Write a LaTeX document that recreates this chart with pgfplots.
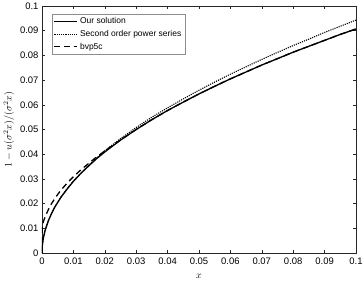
\documentclass[border=0pt]{standalone}
\usepackage[no-math]{fontspec}
\setmainfont{Liberation Sans}
\usepackage{pgfplots}
\pgfplotsset{compat=1.18}
\pgfplotstableread{
x y
0 0
0.0001 0.0029
0.0002 0.0041
0.0005 0.0065
0.001 0.0092
0.002 0.0130
0.003 0.0159
0.004 0.0184
0.005 0.0205
0.006 0.0225
0.008 0.0259
0.01 0.0290
0.0125 0.0324
0.015 0.0354
0.0175 0.0383
0.02 0.0409
0.025 0.0457
0.03 0.0500
0.035 0.0540
0.04 0.0577
0.045 0.0611
0.05 0.0644
0.055 0.0675
0.06 0.0705
0.065 0.0733
0.07 0.0761
0.075 0.0787
0.08 0.0813
0.085 0.0837
0.09 0.0861
0.095 0.0885
0.1 0.0907
}\oursol
\pgfplotstableread{
x y
0 0
0.0001 0.0029
0.0005 0.0065
0.001 0.0092
0.002 0.0130
0.004 0.0184
0.006 0.0226
0.008 0.0260
0.01 0.0292
0.015 0.0357
0.02 0.0414
0.025 0.0463
0.03 0.0508
0.035 0.0550
0.04 0.0588
0.045 0.0624
0.05 0.0659
0.055 0.0692
0.06 0.0724
0.065 0.0754
0.07 0.0784
0.075 0.0812
0.08 0.0840
0.085 0.0866
0.09 0.0893
0.095 0.0918
0.1 0.0943
}\powser
\pgfplotstableread{
x y
0 0
0.00005 0.0105
0.0005 0.0130
0.001 0.0146
0.002 0.0175
0.003 0.0199
0.004 0.0219
0.005 0.0237
0.006 0.0254
0.008 0.0283
0.01 0.0309
0.0125 0.0338
0.015 0.0364
0.0175 0.0390
0.02 0.0413
0.025 0.0458
0.03 0.0500
0.035 0.0540
0.04 0.0577
0.045 0.0611
0.05 0.0644
0.055 0.0675
0.06 0.0705
0.065 0.0733
0.07 0.0761
0.075 0.0787
0.08 0.0813
0.085 0.0837
0.09 0.0861
0.095 0.0885
0.1 0.0907
}\bvp
\begin{document}
\begin{tikzpicture}[font=\fontsize{9.5}{11}\selectfont]
\begin{axis}[
  name=ax,
  scale only axis, width=314bp, height=247bp,
  xmin=0, xmax=0.1, ymin=0, ymax=0.1,
  xtick={0,0.01,0.02,0.03,0.04,0.05,0.06,0.07,0.08,0.09,0.1},
  xticklabels={0,0.01,0.02,0.03,0.04,0.05,0.06,0.07,0.08,0.09,0.1},
  ytick={0,0.01,0.02,0.03,0.04,0.05,0.06,0.07,0.08,0.09,0.1},
  yticklabels={0,0.01,0.02,0.03,0.04,0.05,0.06,0.07,0.08,0.09,0.1},
  tick align=inside, xtick pos=both, ytick pos=both,
  major tick length=3.2bp,
  axis line style={draw=black!85, line width=0.5pt},
  tick style={draw=black!85, line width=0.5pt},
  xticklabel style={yshift=-1bp},
  xlabel={$x$}, ylabel={$1-u(\sigma^2x)/(\sigma^2x)$},
  xlabel style={font=\fontsize{10}{11}\selectfont, yshift=-3.5bp},
  ylabel style={font=\fontsize{10}{11}\selectfont, yshift=-1bp},
  legend style={at={(0.032,0.968)}, anchor=north west, draw=black!45,
    line width=0.5pt, font=\fontsize{8.5}{10}\selectfont,
    inner sep=1.5bp, row sep=1bp},
  legend cell align=left,
  legend image code/.code={\draw[#1] (0bp,0bp) -- (23bp,0bp);},
]
\addplot[black, line width=1.3pt] table {\oursol};
\addlegendentry{Our solution}
\addplot[black, line width=1.1pt, dash pattern=on 1.1bp off 1.1bp] table {\powser};
\addlegendentry{Second order power series}
\addplot[black, line width=1.3pt, dash pattern=on 6bp off 4bp] table {\bvp};
\addlegendentry{bvp5c}
\end{axis}
\pgfresetboundingbox
\path ([shift={(-42bp,-30bp)}]ax.south west) rectangle ([shift={(8bp,6bp)}]ax.north east);
\end{tikzpicture}
\end{document}
